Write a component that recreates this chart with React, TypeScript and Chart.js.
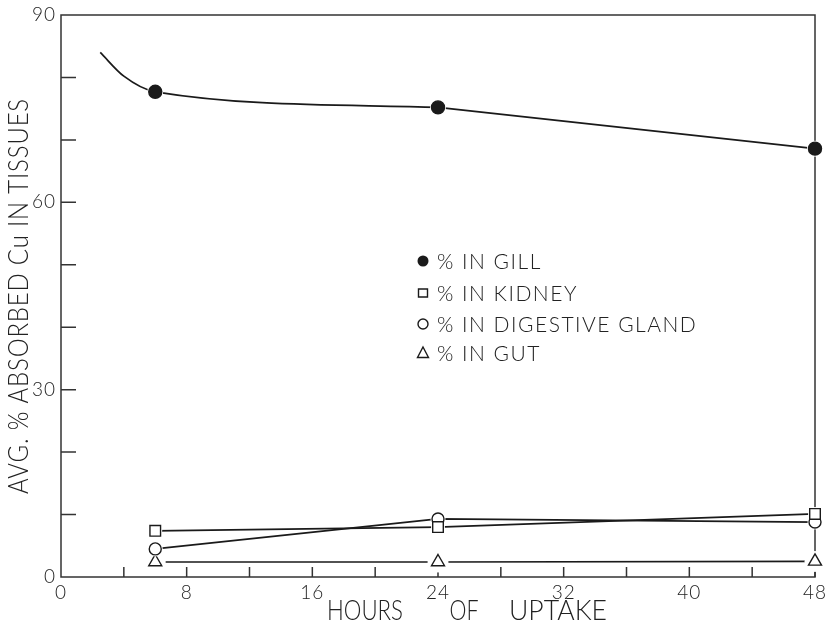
import { useEffect, useRef } from "react";
import { Chart, registerables } from "chart.js";

Chart.register(...registerables);

// Sampling times (hours of uptake)
const HOURS = [6, 24, 48];
// Hand-drawn gill curve ahead of the first sample (no markers there)
const GILL_LEAD_HOURS = [2.5, 4];
const GILL_LEAD_VALUES = [84, 80.2];
// Average % of absorbed Cu found in each tissue
const GILL = [77.7, 75.2, 68.6];
const KIDNEY = [7.4, 8.0, 10.1];
const DIGESTIVE = [4.5, 9.3, 8.8];
const GUT = [2.4, 2.4, 2.5];

const SERIES_LABELS = ["% IN GILL", "% IN KIDNEY", "% IN DIGESTIVE GLAND", "% IN GUT"];

// Axis ticks (drawn inward)
const X_MINOR_TICKS = [4, 8, 12, 16, 20, 24, 28, 32, 36, 40, 44, 48];
const Y_MINOR_TICKS = [10, 20, 30, 40, 50, 60, 70, 80];
const X_TITLE_WORDS = ["HOURS", "OF", "UPTAKE"];
const Y_TITLE = "AVG. % ABSORBED Cu IN TISSUES";

const INK = "#1a1a1a";
const TEXT = "#222";
const FONT = "Lato, Liberation Sans, sans-serif";

const pts = (ys: number[]) => HOURS.map((x, i) => ({ x, y: ys[i] }));

// marker style and white clearance radius per series
const MARKERS = [
  { style: "circle", radius: 6.5, fill: INK, halo: 8 },
  { style: "rect", radius: 7.5, fill: "#fff", halo: 7 },
  { style: "circle", radius: 6, fill: "#fff", halo: 7.5 },
  { style: "triangle", radius: 7.5, fill: "#fff", halo: 10.5 },
];

function drawLegendMarker(ctx: CanvasRenderingContext2D, i: number, x: number, y: number) {
  ctx.save();
  ctx.strokeStyle = INK;
  ctx.lineWidth = 1.4;
  ctx.beginPath();
  if (i === 0) {
    ctx.fillStyle = INK;
    ctx.arc(x, y, 5.5, 0, Math.PI * 2);
    ctx.fill();
  } else if (i === 1) {
    ctx.rect(x - 4.5, y - 4, 9, 8);
    ctx.stroke();
  } else if (i === 2) {
    ctx.arc(x, y, 5, 0, Math.PI * 2);
    ctx.stroke();
  } else {
    ctx.moveTo(x, y - 6);
    ctx.lineTo(x + 5.5, y + 4.5);
    ctx.lineTo(x - 5.5, y + 4.5);
    ctx.closePath();
    ctx.stroke();
  }
  ctx.restore();
}

const framePlugin = {
  id: "frame",
  beforeDraw(chart: any) {
    (chart.ctx as any).letterSpacing = "1px";
  },
  beforeDatasetsDraw(chart: any) {
    const { ctx, chartArea: a, scales } = chart;
    ctx.save();
    ctx.strokeStyle = "#333";
    ctx.lineWidth = 1.5;
    ctx.strokeRect(a.left, a.top, a.right - a.left, a.bottom - a.top);
    ctx.beginPath();
    for (const v of X_MINOR_TICKS) {
      const px = scales.x.getPixelForValue(v);
      ctx.moveTo(px, a.bottom);
      ctx.lineTo(px, a.bottom - 10);
    }
    for (const v of Y_MINOR_TICKS) {
      const py = scales.y.getPixelForValue(v);
      ctx.moveTo(a.left, py);
      ctx.lineTo(a.left + 15, py);
    }
    ctx.stroke();
    ctx.restore();
  },
  beforeDatasetDraw(chart: any, args: any) {
    const ds = chart.data.datasets[args.index];
    if (ds.haloRadius == null) return;
    const { ctx } = chart;
    ctx.save();
    ctx.fillStyle = "#fff";
    for (const el of args.meta.data) {
      ctx.beginPath();
      ctx.arc(el.x, el.y, ds.haloRadius, 0, Math.PI * 2);
      ctx.fill();
    }
    ctx.restore();
  },
  afterDraw(chart: any) {
    const { ctx } = chart;
    ctx.save();
    ctx.fillStyle = TEXT;
    ctx.textAlign = "center";
    ctx.textBaseline = "middle";
    (ctx as any).letterSpacing = "0px";
    // x-axis title, tall narrow lettering
    ctx.font = `300 27px ${FONT}`;
    const xWords = [
      { c: 365, w: 76 },
      { c: 464, w: 29 },
      { c: 558, w: 98 },
    ];
    X_TITLE_WORDS.forEach((w, i) => ctx.fillText(w, xWords[i].c, 611, xWords[i].w));
    // y-axis title
    ctx.translate(19, 296);
    ctx.rotate(-Math.PI / 2);
    ctx.font = `300 28px ${FONT}`;
    (ctx as any).letterSpacing = "1px";
    ctx.fillText(Y_TITLE, 0, 0, 396);
    ctx.restore();

    // legend inside the plot
    ctx.save();
    const rowsY = [261, 293, 324, 353];
    ctx.font = `300 21px ${FONT}`;
    ctx.fillStyle = TEXT;
    ctx.textAlign = "left";
    ctx.textBaseline = "middle";
    (ctx as any).letterSpacing = "1.5px";
    SERIES_LABELS.forEach((label, i) => {
      drawLegendMarker(ctx, i, 423, rowsY[i]);
      ctx.fillText(label, 437, rowsY[i] + 1);
    });
    ctx.restore();
  },
};

export default function App() {
  const ref = useRef<HTMLCanvasElement>(null);

  useEffect(() => {
    if (!ref.current) return;
    const lineStyle = { borderColor: INK, borderWidth: 1.7, pointRadius: 0, order: 2, clip: false };
    const series = [GILL, KIDNEY, DIGESTIVE, GUT];
    const gillPts = pts(GILL);

    const lineSets: any[] = [
      // gill: curved lead-in down to the 24 h sample
      {
        label: "gill curve",
        data: [...GILL_LEAD_HOURS.map((x, i) => ({ x, y: GILL_LEAD_VALUES[i] })), ...gillPts.slice(0, 2)],
        cubicInterpolationMode: "monotone",
        ...lineStyle,
      },
      { label: "gill line", data: gillPts.slice(1), ...lineStyle },
      { label: "kidney line", data: pts(KIDNEY), ...lineStyle },
      { label: "digestive line", data: pts(DIGESTIVE), ...lineStyle },
      { label: "gut line", data: pts(GUT), ...lineStyle },
    ];

    const markerSets = series.map((ys, i) => ({
      label: SERIES_LABELS[i],
      data: pts(ys),
      showLine: false,
      clip: false,
      order: 1,
      haloRadius: MARKERS[i].halo,
      pointStyle: MARKERS[i].style,
      pointRadius: MARKERS[i].radius,
      pointBackgroundColor: MARKERS[i].fill,
      pointBorderColor: INK,
      pointBorderWidth: 1.4,
    }));

    const tickFont = { family: FONT, size: 19, weight: "300" };

    const chart = new Chart(ref.current, {
      type: "line",
      data: { datasets: [...lineSets, ...markerSets] },
      options: {
        animation: false,
        responsive: false,
        layout: { padding: { left: 0, top: 15, right: 12, bottom: 0 } },
        plugins: { legend: { display: false }, tooltip: { enabled: false } },
        scales: {
          x: {
            type: "linear",
            min: 0,
            max: 48,
            grid: { display: false, drawTicks: false },
            border: { display: false },
            ticks: { stepSize: 8, color: TEXT, font: tickFont, padding: 4, maxRotation: 0 },
            afterFit: (s: any) => {
              s.height = 53;
              s.paddingLeft = 0;
              s.paddingRight = 0;
            },
          },
          y: {
            min: 0,
            max: 90,
            grid: { display: false, drawTicks: false },
            border: { display: false },
            ticks: { stepSize: 30, color: TEXT, font: tickFont, padding: 5 },
            afterFit: (s: any) => {
              s.width = 61;
              s.paddingTop = 0;
              s.paddingBottom = 0;
            },
          },
        },
      } as any,
      plugins: [framePlugin],
    });
    return () => chart.destroy();
  }, []);

  return (
    <div style={{ position: "fixed", left: 0, top: 0, width: 827, height: 630, background: "#fff" }}>
      <canvas ref={ref} width={827} height={630} />
    </div>
  );
}
